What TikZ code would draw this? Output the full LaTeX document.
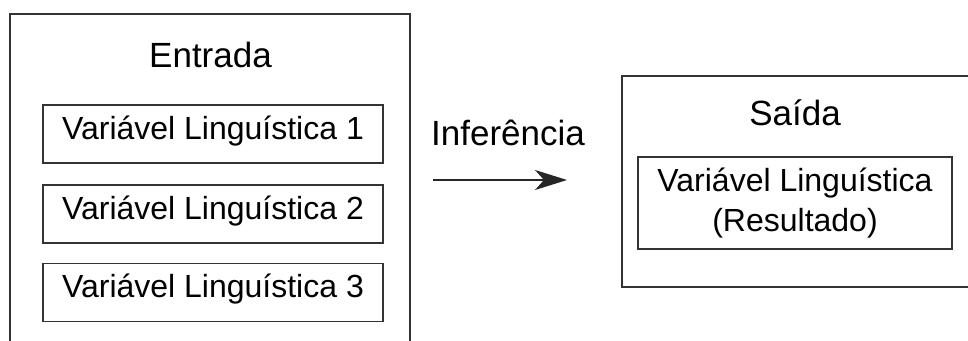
\documentclass[tikz,border=0pt]{standalone}
\usepackage{fontspec}
\setmainfont{Liberation Sans}
\usetikzlibrary{arrows.meta}

\begin{document}
\begin{tikzpicture}[x=1pt,y=-1pt,
    caixa/.style={draw=black!80,line width=1.5pt,inner sep=0pt},
    titulo/.style={font=\fontsize{35}{40}\selectfont,inner sep=0pt,anchor=base},
    variavel/.style={caixa,font=\fontsize{32}{40}\selectfont},
    entradavar/.style={variavel,minimum width=340pt,minimum height=58pt,text height=24pt,text depth=14pt},
    seta/.style={-{Stealth[length=32pt,width=20pt,inset=9pt]},line width=1.6pt,draw=black!85}]
  \useasboundingbox (0,0) rectangle (968,340);
  % bloco de entrada
  \node[caixa,minimum width=400pt,minimum height=346pt] (entrada) at (210,187) {};
  \node[titulo] (tentrada) at (210.5,67) {Entrada};
  \foreach \i/\y in {1/134,2/214,3/292.5}
    \node[entradavar] (var\i) at (213,\y) {Variável Linguística \i};
  % seta de inferencia
  \coordinate (inicio) at (433,180);
  \coordinate (fim) at (567,180);
  \draw[seta] (inicio) -- (fim);
  \node[titulo] (inferencia) at (508,145) {Inferência};
  % bloco de saida
  \node[caixa,minimum width=350pt,minimum height=211pt] (saida) at (797,181.5) {};
  \node[titulo] (tsaida) at (795,125) {Saída};
  \node[variavel,minimum width=314pt,minimum height=92pt,align=center] (resultado) at (795,203)
    {Variável Linguística\\(Resultado)};
\end{tikzpicture}
\end{document}
